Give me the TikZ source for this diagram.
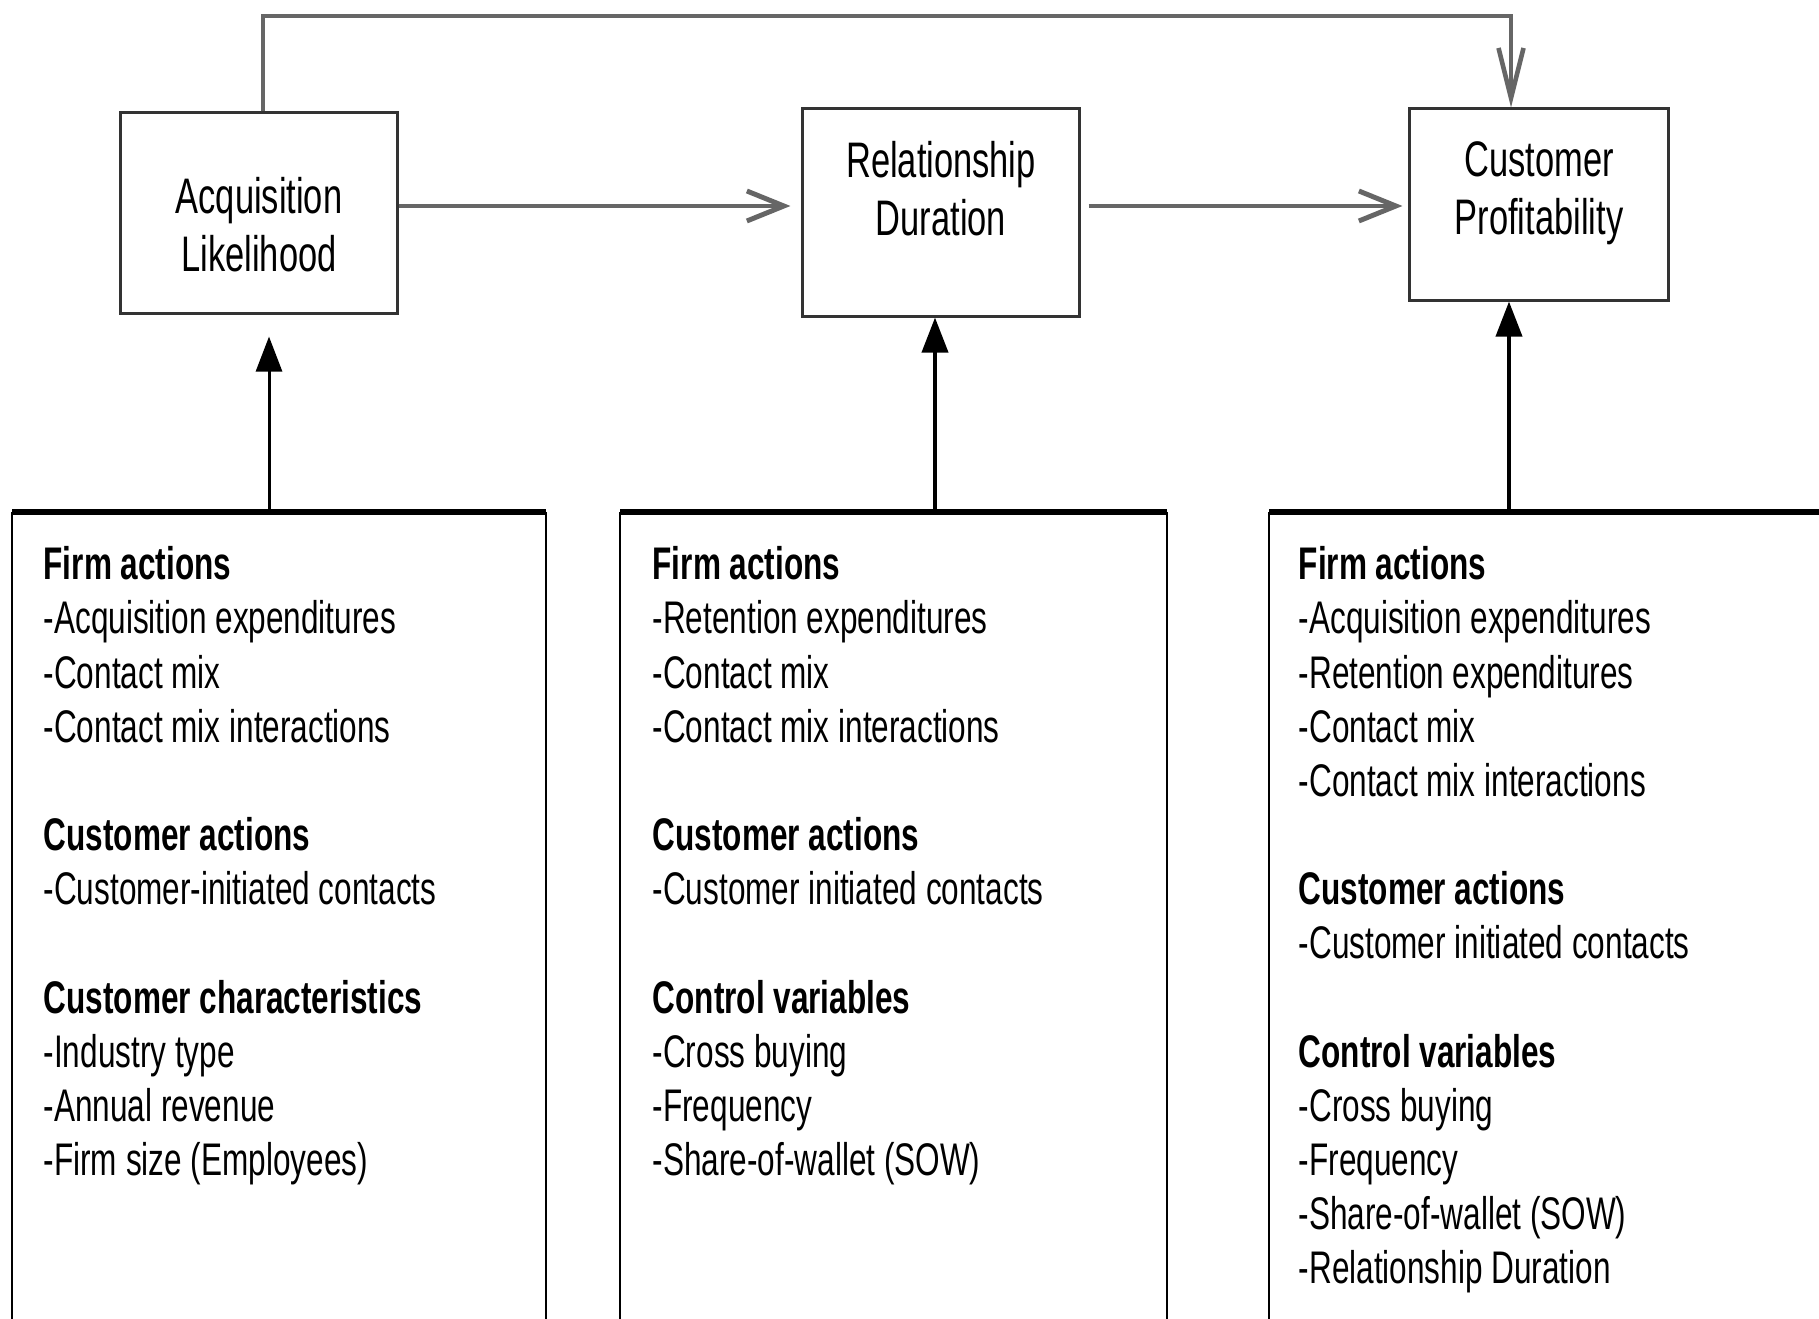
\documentclass[tikz,border=0pt]{standalone}
\usepackage{fontspec}
\setmainfont{Liberation Sans}[FakeStretch=0.69]
\usetikzlibrary{arrows.meta}
\definecolor{boxline}{HTML}{333333}
\definecolor{arrgray}{HTML}{666666}
\begin{document}
\begin{tikzpicture}[x=0.01cm,y=-0.01cm,
  titlebox/.style={draw=boxline,line width=0.85pt,inner sep=0pt},
  titletext/.style={anchor=north,align=center,inner sep=0pt,font=\fontsize{14.2}{16.5}\selectfont},
  bodytext/.style={anchor=north west,align=left,inner sep=0pt,font=\fontsize{13}{15.4}\selectfont},
  framebox/.style={inner sep=0pt},
  flowarrow/.style={draw=arrgray,line width=1.4pt,-{Straight Barb[length=0.37cm,width=0.30cm]}},
  toparrow/.style={draw=arrgray,line width=1.3pt,-{Straight Barb[length=0.5cm,width=0.25cm]}},
  uparrow/.style={draw=black,line width=1.1pt,-{Triangle[length=0.35cm,width=0.26cm]}},
  sideline/.style={draw=black,line width=0.7pt},
  topline/.style={draw=black,line width=1.7pt}]
\useasboundingbox (0,0) rectangle (1819,1319);
\clip (0,0) rectangle (1819,1319);
\fill[white] (0,0) rectangle (1819,1319);

% top boxes
\node[titlebox,minimum width=2.76cm,minimum height=2.00cm] (acq) at (259,213) {};
\node[titlebox,minimum width=2.76cm,minimum height=2.07cm] (rel) at (941,212.5) {};
\node[titlebox,minimum width=2.58cm,minimum height=1.91cm] (cp) at (1539,204.5) {};
\node[titletext] (acqt) at (259,177) {Acquisition\\Likelihood};
\node[titletext] (relt) at (941,141) {Relationship\\Duration};
\node[titletext] (cpt) at (1539,141) {Customer\\Profitability};

% bottom frames
\node[framebox,minimum width=5.32cm,minimum height=8.27cm] (f1) at (279,926.5) {};
\node[framebox,minimum width=5.45cm,minimum height=8.27cm] (f2) at (893.5,926.5) {};
\node[framebox,minimum width=5.90cm,minimum height=8.27cm] (f3) at (1565,926.5) {};
\foreach \f in {f1,f2,f3}{
  \draw[sideline] (\f.south west) -- (\f.north west) (\f.north east) -- (\f.south east);
  \draw[topline] (\f.north west) -- (\f.north east);
}

\node[bodytext] (t1) at (43,546) {\textbf{Firm actions}\\-Acquisition expenditures\\-Contact mix\\-Contact mix interactions\\[15.4pt]\textbf{Customer actions}\\-Customer-initiated contacts\\[15.4pt]\textbf{Customer characteristics}\\-Industry type\\-Annual revenue\\-Firm size (Employees)};
\node[bodytext] (t2) at (652,546) {\textbf{Firm actions}\\-Retention expenditures\\-Contact mix\\-Contact mix interactions\\[15.4pt]\textbf{Customer actions}\\-Customer initiated contacts\\[15.4pt]\textbf{Control variables}\\-Cross buying\\-Frequency\\-Share-of-wallet (SOW)};
\node[bodytext] (t3) at (1298,546) {\textbf{Firm actions}\\-Acquisition expenditures\\-Retention expenditures\\-Contact mix\\-Contact mix interactions\\[15.4pt]\textbf{Customer actions}\\-Customer initiated contacts\\[15.4pt]\textbf{Control variables}\\-Cross buying\\-Frequency\\-Share-of-wallet (SOW)\\-Relationship Duration};

% flow arrows
\coordinate (ae) at ([yshift=0.07cm]acq.east);
\draw[flowarrow,shorten >=0.11cm] (ae) -- (ae -| rel.west);
\coordinate (re) at ([yshift=0.065cm]rel.east);
\draw[flowarrow,shorten <=0.08cm,shorten >=0.06cm] (re) -- (re -| cp.west);
\coordinate (an) at ([xshift=0.04cm]acq.north);
\coordinate (tr) at (1511,16);
\draw[toparrow] (an) |- (tr) -- (tr |- cp.north);

% up arrows
\coordinate (a1) at ([xshift=0.1cm,yshift=-0.22cm]acq.south);
\draw[uparrow,line width=0.85pt] (a1 |- f1.north) -- (a1);
\coordinate (r1) at ([xshift=-0.06cm]rel.south);
\draw[uparrow] (r1 |- f2.north) -- (r1);
\coordinate (c1) at ([xshift=-0.3cm]cp.south);
\draw[uparrow] (c1 |- f3.north) -- (c1);
\end{tikzpicture}
\end{document}
